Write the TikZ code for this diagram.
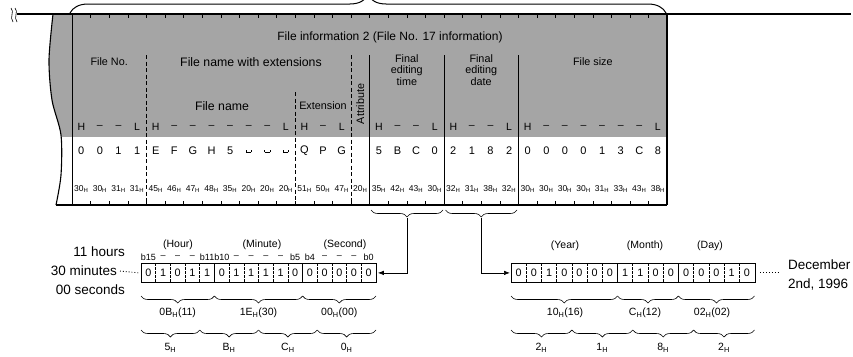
\documentclass[tikz,border=0pt]{standalone}
\usepackage{fontspec}
\setmainfont{Liberation Sans}
\usetikzlibrary{decorations.pathreplacing,arrows.meta,calc}
\newcommand{\subH}{\textsubscript{H}}
\newcommand{\vsp}{\rule{0.6pt}{2.8pt}\rule{5pt}{0.6pt}\rule{0.6pt}{2.8pt}}
\definecolor{shadegray}{RGB}{165,165,165}
\begin{document}
\begin{tikzpicture}[x=1pt,y=-1pt,
  thin line/.style={line width=0.6pt},
  solidsep/.style={line width=0.8pt},
  dashsep/.style={line width=0.8pt, dash pattern=on 4pt off 2.5pt},
  hd/.style={font=\fontsize{10.8}{11.5}\selectfont, inner sep=0pt, align=center},
  title/.style={font=\fontsize{12}{13}\selectfont, inner sep=0pt},
  hl/.style={font=\fontsize{10.5}{11}\selectfont, inner sep=0pt},
  val/.style={font=\fontsize{11}{12}\selectfont, inner sep=0pt},
  byt/.style={font=\fontsize{8.5}{9}\selectfont, inner sep=0pt},
  bit/.style={font=\fontsize{10.8}{12}\selectfont, inner sep=0pt},
  bl/.style={font=\fontsize{9}{10}\selectfont, inner sep=0pt},
  grp/.style={font=\fontsize{10.5}{12}\selectfont, inner sep=0pt},
  side/.style={font=\fontsize{13.5}{14}\selectfont, inner sep=0pt},
  brc/.style={decorate, decoration={brace, mirror, amplitude=7pt}, line width=0.6pt},
  bitbox/.style={draw, line width=0.8pt, minimum height=19pt, inner sep=0pt, anchor=north west},
  conn/.style={line width=0.7pt, -{Latex[length=6pt,width=4.5pt]}, shorten >=1pt}
]
\useasboundingbox (0,0) rectangle (853,356);

% ---------- table shading ----------
\fill[shadegray] plot[smooth] coordinates {(53,14) (49,60) (52,100) (61,135) (61,175) (56,205)}
   -- (667,205) -- (667,14) -- cycle;
\fill[white] (40,137) rectangle (667,205);

% top brace (tip cut off by the picture edge)
\begin{scope}
\clip (0,0) rectangle (853,356);
\draw[decorate, decoration={brace, amplitude=18pt}, line width=1pt] (70,13) -- (666,13);
\end{scope}

% break mark
\draw[line width=0.6pt] (11,8) .. controls (15,12) and (9,17) .. (13,22);
\draw[line width=0.6pt] (15,8) .. controls (19,12) and (13,17) .. (17,22);

% frame lines
\draw[line width=1.3pt] (17,14) -- (851,14);
\draw[line width=1.1pt] plot[smooth] coordinates {(53,14) (49,60) (52,100) (61,135) (61,175) (56,205)};
\draw[line width=1.1pt] (56,205) -- (667,205);
\draw[line width=0.8pt] (72,14) -- (72,205);
\draw[line width=1.8pt] (667,14) -- (667,205);

% byte ticks
\foreach \k in {1,...,31} {
  \draw[thin line] ({72+18.6*\k},14) -- ({72+18.6*\k},18);
  \draw[thin line] ({72+18.6*\k},205) -- ({72+18.6*\k},201);
}

% column separators
\draw[dashsep] (146.4,55) -- (146.4,205);
\draw[dashsep] (295.2,92) -- (295.2,205);
\draw[dashsep] (351,55) -- (351,205);
\draw[solidsep] (369.6,55) -- (369.6,205);
\draw[solidsep] (444,55) -- (444,205);
\draw[solidsep] (518.4,55) -- (518.4,205);

% headers
\node[title] (ttl) at (390,37) {File information 2 (File No. 17 information)};
\node[hd] (hfno) at (109.2,62) {File No.};
\node[hd, font=\fontsize{12.3}{13}\selectfont] (hfnx) at (251,62) {File name with extensions};
\node[hd, font=\fontsize{12.3}{13}\selectfont] (hfn) at (222,106) {File name};
\node[hd] (hext) at (323,106) {Extension};
\node[hd, rotate=90] (hattr) at (360.3,104) {Attribute};
\node[hd] (htime) at (406.8,70) {Final\\editing\\time};
\node[hd] (hdate) at (481.2,70) {Final\\editing\\date};
\node[hd] (hsize) at (592.8,62) {File size};

% H - L row
\foreach \t [count=\i from 0] in {H,–,–,L,H,–,–,–,–,–,–,L,H,–,L,{},H,–,–,L,H,–,–,L,H,–,–,–,–,–,–,L}
  \node[hl] (hl\i) at ({72+18.6*(\i+0.5)},127) {\t};

% values row
\foreach \t [count=\i from 0] in {0,0,1,1,E,F,G,H,5,\vsp,\vsp,\vsp,Q,P,G,{},5,B,C,0,2,1,8,2,0,0,0,0,1,3,C,8}
  \node[val] (v\i) at ({72+18.6*(\i+0.5)},151) {\t};

% byte codes row
\foreach \t [count=\i from 0] in {30,30,31,31,45,46,47,48,35,20,20,20,51,50,47,20,35,42,43,30,32,31,38,32,30,30,30,30,31,33,43,38}
  \node[byt] (c\i) at ({72+18.6*(\i+0.5)},189) {\t\subH};

% braces under time and date columns
\draw[brc] (371,210) -- (443,210);
\coordinate (ttip) at (407,218);
\draw[brc] (445.5,210) -- (517,210);
\coordinate (dtip) at (481.2,218);

% ---------- time bit box ----------
\node[bitbox, minimum width=235pt] (tbox) at (141,263) {};
\foreach \k in {1,2,3,4,6,7,8,9,10,12,13,14,15}
  \draw[line width=0.6pt, dash pattern=on 2.5pt off 1.5pt] ({141+14.6875*\k},263) -- ({141+14.6875*\k},282);
\foreach \k in {5,11}
  \draw[solidsep] ({141+14.6875*\k},263) -- ({141+14.6875*\k},282);
\foreach \b [count=\i from 0] in {0,1,0,1,1,0,1,1,1,1,0,0,0,0,0,0}
  \node[bit] (tb\i) at ({141+14.6875*(\i+0.5)},272.5) {\b};
\foreach \b [count=\i from 0] in {b15,–,–,–,b11,b10,–,–,–,–,b5,b4,–,–,–,b0}
  \node[bl] (tl\i) at ({141+14.6875*(\i+0.5)},257) {\b};
\node[grp] (ghour) at (178,245) {(Hour)};
\node[grp] (gmin) at (262,245) {(Minute)};
\node[grp] (gsec) at (345,245) {(Second)};

\node[side, anchor=east] (hrs) at (125,252) {11 hours};
\node[side, anchor=east] (mins) at (117,271) {30 minutes};
\node[side, anchor=east] (secs) at (125,290) {00 seconds};
\draw[dotted, line width=0.9pt] ([xshift=3pt]mins.east) -- ([xshift=-2pt]tbox.west);

\draw[brc] (141,296) -- (214.4,296);
\draw[brc] (214.4,296) -- (302.6,296);
\draw[brc] (302.6,296) -- (376,296);
\node[grp] (tv1) at (177.7,313) {0B\subH(11)};
\node[grp] (tv2) at (258.5,313) {1E\subH(30)};
\node[grp] (tv3) at (339.3,313) {00\subH(00)};
\draw[brc] (141,330) -- (199.75,330);
\draw[brc] (199.75,330) -- (258.5,330);
\draw[brc] (258.5,330) -- (317.25,330);
\draw[brc] (317.25,330) -- (376,330);
\node[grp] (tn1) at (170.4,348) {5\subH};
\node[grp] (tn2) at (229.1,348) {B\subH};
\node[grp] (tn3) at (287.9,348) {C\subH};
\node[grp] (tn4) at (346.6,348) {0\subH};

% ---------- date bit box ----------
\node[bitbox, minimum width=243.5pt] (dbox) at (511,263) {};
\foreach \k in {1,2,3,4,5,6,8,9,10,12,13,14,15}
  \draw[line width=0.6pt, dash pattern=on 2.5pt off 1.5pt] ({511+15.22*\k},263) -- ({511+15.22*\k},282);
\foreach \k in {7,11}
  \draw[solidsep] ({511+15.22*\k},263) -- ({511+15.22*\k},282);
\foreach \b [count=\i from 0] in {0,0,1,0,0,0,0,1,1,0,0,0,0,0,1,0}
  \node[bit] (db\i) at ({511+15.22*(\i+0.5)},272.5) {\b};
\node[grp] (gyear) at (565,246) {(Year)};
\node[grp] (gmon) at (645,246) {(Month)};
\node[grp] (gday) at (710,246) {(Day)};

\node[side, anchor=west] (dec) at (788,265) {December};
\node[side, anchor=west] (dyr) at (788,284) {2nd, 1996};
\coordinate (dotend) at (dbox.east -| dec.west);
\draw[dotted, line width=0.9pt] ([xshift=5pt]dbox.east) -- ([xshift=-8pt]dotend);

\draw[brc] (511,296) -- (617.5,296);
\draw[brc] (617.5,296) -- (678.4,296);
\draw[brc] (678.4,296) -- (754.5,296);
\node[grp] (dv1) at (565,313) {10\subH(16)};
\node[grp] (dv2) at (645,313) {C\subH(12)};
\node[grp] (dv3) at (712,313) {02\subH(02)};
\draw[brc] (511,330) -- (571.9,330);
\draw[brc] (571.9,330) -- (632.8,330);
\draw[brc] (632.8,330) -- (693.6,330);
\draw[brc] (693.6,330) -- (754.5,330);
\node[grp] (dn1) at (541.4,348) {2\subH};
\node[grp] (dn2) at (602.3,348) {1\subH};
\node[grp] (dn3) at (663.2,348) {8\subH};
\node[grp] (dn4) at (724,348) {2\subH};

% connectors
\draw[conn] (ttip) |- (tbox.east);
\draw[conn] (dtip) |- (dbox.west);
\end{tikzpicture}
\end{document}
